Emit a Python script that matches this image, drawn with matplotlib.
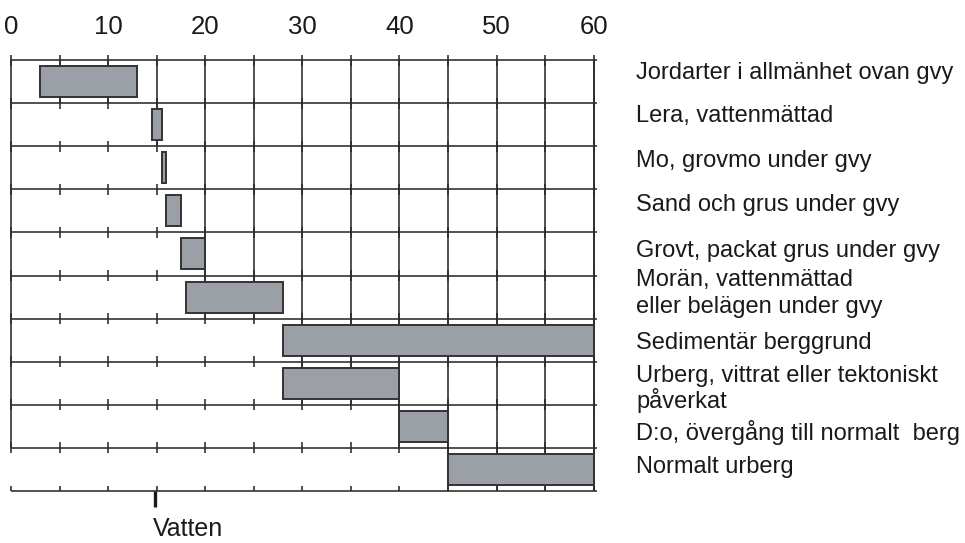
import matplotlib
matplotlib.use("Agg")
import matplotlib.pyplot as plt
from matplotlib.patches import Rectangle

# Soil / rock types with their value ranges (start, end)
categories = [
    "Jordarter i allmänhet ovan gvy",
    "Lera, vattenmättad",
    "Mo, grovmo under gvy",
    "Sand och grus under gvy",
    "Grovt, packat grus under gvy",
    "Morän, vattenmättad\neller belägen under gvy",
    "Sedimentär berggrund",
    "Urberg, vittrat eller tektoniskt\npåverkat",
    "D:o, övergång till normalt  berg",
    "Normalt urberg",
]
range_start = [3, 14.5, 15.5, 16, 17.5, 18, 28, 28, 40, 45]
range_end = [13, 15.5, 16, 17.5, 20, 28, 60, 40, 45, 60]
x_ticks = [0, 10, 20, 30, 40, 50, 60]
minor_step = 5
water_value = 14.8
water_label = "Vatten"

W, H, DPI = 965, 543, 100
fig = plt.figure(figsize=(W / DPI, H / DPI), dpi=DPI)

# axes placed in pixel terms: x 0..60 spans 11..593.6 px, rows span 60..491 px
left_px, right_px, top_px, bot_px = 11, 593.6, 60, 491
ax = fig.add_axes([left_px / W, 1 - bot_px / H,
                   (right_px - left_px) / W, (bot_px - top_px) / H])
n = len(categories)
ax.set_xlim(0, 60)
ax.set_ylim(n, 0)
ax.axis("off")

line_col = "#2b2b2b"
lw = 1.15
px_per_unit_y = (bot_px - top_px) / n
px = 1.0 / px_per_unit_y  # one pixel in row units
px_x = 60.0 / (right_px - left_px)

# staircase of vertical grid lines: each line runs down to the last row
# whose range starts at or before it
for xv in range(minor_step, 61, minor_step):
    rows = [i for i, s in enumerate(range_start) if s <= xv]
    if rows:
        ax.vlines(xv, 0, rows[-1] + 1, color=line_col, lw=lw, zorder=1, clip_on=False)
ax.vlines(0, 0, n - 1, color=line_col, lw=lw, zorder=1, clip_on=False)
ax.vlines(60, 0, n, color=line_col, lw=lw, zorder=1, clip_on=False)

# horizontal row separators with small tick marks
for r in range(n + 1):
    ax.hlines(r, 0, 60 + 3 * px_x, color=line_col, lw=lw, zorder=1, clip_on=False)
    up = 5.5 * px
    down = 0 if r == n else 5.5 * px
    for xv in range(0, 61, minor_step):
        ax.vlines(xv, r - up, r + down, color=line_col, lw=lw, zorder=1, clip_on=False)

# range bars
bar_h = 0.72
for i, (s, e) in enumerate(zip(range_start, range_end)):
    ax.add_patch(Rectangle((s, i + 0.5 - bar_h / 2), e - s, bar_h,
                           facecolor="#9aa0a6", edgecolor="#333333",
                           lw=1.4, zorder=3, clip_on=False))

# water marker below the bottom line
ax.vlines(water_value, n, n + 16 * px, color="#1a1a1a", lw=2.4, zorder=2, clip_on=False)

num_font = "Liberation Sans"
for t in x_ticks:
    ax.text(t, -(top_px - 27) * px, str(t), ha="center", va="center",
            fontsize=18.5, family=num_font, color="#1a1a1a")

ax.text(water_value - 0.2, n + 45 * px, water_label, ha="left", va="baseline",
        fontsize=18, family="Liberation Sans", color="#1a1a1a")

# category labels to the right of the grid (baselines in pixels)
label_lines = []
for c in categories:
    label_lines.extend(c.split("\n"))
baselines = [79, 122, 167, 211, 257, 286, 313, 349, 382, 408, 440, 473]
for txt, b in zip(label_lines, baselines):
    fig.text(636 / W, 1 - b / H, txt, ha="left", va="baseline",
             fontsize=17, family="Liberation Sans", color="#1a1a1a")

fig.savefig("out.png", dpi=DPI, facecolor="white")
